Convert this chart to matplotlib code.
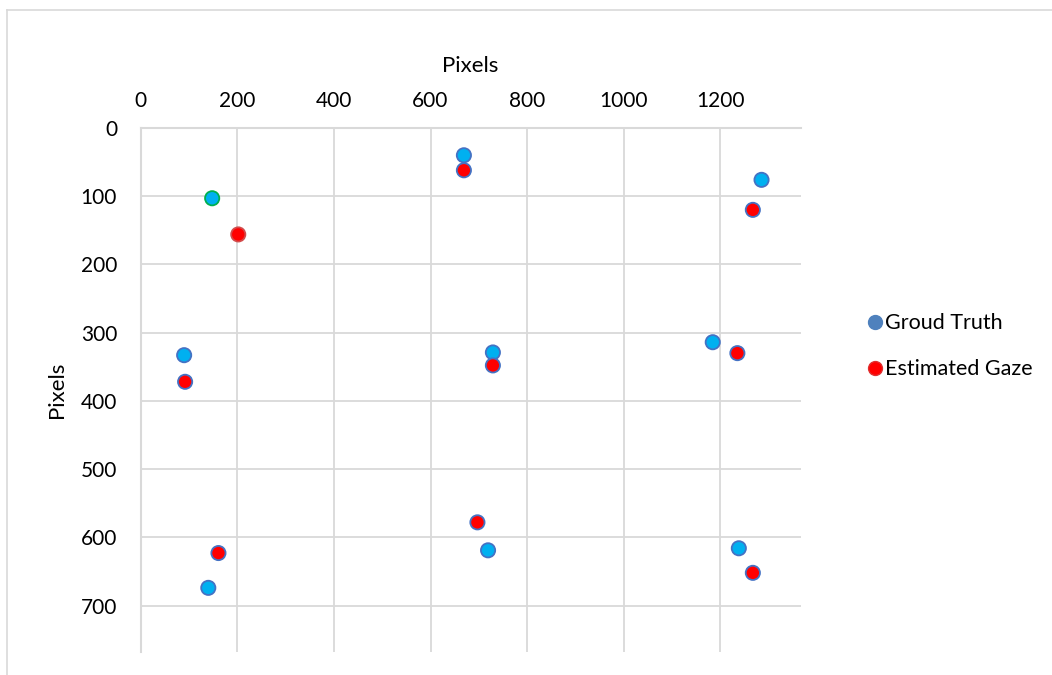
import matplotlib
matplotlib.use("Agg")
import matplotlib.pyplot as plt
from matplotlib.lines import Line2D

plt.rcParams['font.family'] = ['Lato', 'DejaVu Sans']

# screen coordinates (pixels), y measured downwards
gt_x = [148, 669, 1285, 90, 729, 1184, 140, 719, 1238]
gt_y = [103, 40, 76, 333, 329, 314, 674, 619, 616]
est_x = [202, 669, 1267, 92, 729, 1235, 161, 697, 1267]
est_y = [156, 62, 120, 372, 348, 330, 623, 578, 652]

screen_w, screen_h = 1366, 768
x_ticks = [0, 200, 400, 600, 800, 1000, 1200]
y_ticks = [0, 100, 200, 300, 400, 500, 600, 700]

GRID = "#D9D9D9"
EDGE = "#4472C4"

fig = plt.figure(figsize=(10.52, 6.75), dpi=100)
ax = fig.add_axes([0.1337, 0.0341, 0.6274, 0.7763])

# first ground-truth point has a green outline, first estimate a red one
gt_edges = ["#00B050"] + [EDGE] * (len(gt_x) - 1)
est_edges = ["#D24B4B"] + [EDGE] * (len(est_x) - 1)
ax.scatter(gt_x, gt_y, s=105, c="#00B0F0", edgecolors=gt_edges, linewidths=1.3, zorder=3)
ax.scatter(est_x, est_y, s=105, c="#FF0000", edgecolors=est_edges, linewidths=1.3, zorder=3)

ax.set_xlim(0, screen_w)
ax.set_ylim(screen_h, 0)
ax.set_xticks(x_ticks)
ax.set_yticks(y_ticks)
ax.xaxis.tick_top()
ax.xaxis.set_label_position("top")
ax.tick_params(length=0, labelsize=15, colors="black")
ax.tick_params(axis="x", pad=12)
ax.tick_params(axis="y", pad=17)
ax.set_xlabel("Pixels", fontsize=16, labelpad=14)
ax.set_ylabel("Pixels", fontsize=16, labelpad=10)

ax.grid(True, color=GRID, linewidth=1.3)
ax.set_axisbelow(True)
for side in ["right", "bottom"]:
    ax.spines[side].set_visible(False)
for side in ["left", "top"]:
    ax.spines[side].set_color(GRID)
    ax.spines[side].set_linewidth(1.5)

handles = [
    Line2D([], [], marker="o", linestyle="", markersize=10,
           markerfacecolor="#4F81BD", markeredgecolor="#4F81BD", label="Groud Truth"),
    Line2D([], [], marker="o", linestyle="", markersize=10,
           markerfacecolor="#FF0000", markeredgecolor="#E03030", label="Estimated Gaze"),
]
fig.legend(handles=handles, loc="center left", bbox_to_anchor=(0.813, 0.487),
           frameon=False, fontsize=15.5, handletextpad=0.0, handlelength=1.0,
           labelspacing=1.2, borderaxespad=0)

# chart area border
fig.add_artist(Line2D([7 / 1052, 7 / 1052], [0, 1 - 9.5 / 675], color=GRID, linewidth=1.2))
fig.add_artist(Line2D([7 / 1052, 1], [1 - 9.5 / 675, 1 - 9.5 / 675], color=GRID, linewidth=1.2))

fig.savefig("out.png", dpi=100)
